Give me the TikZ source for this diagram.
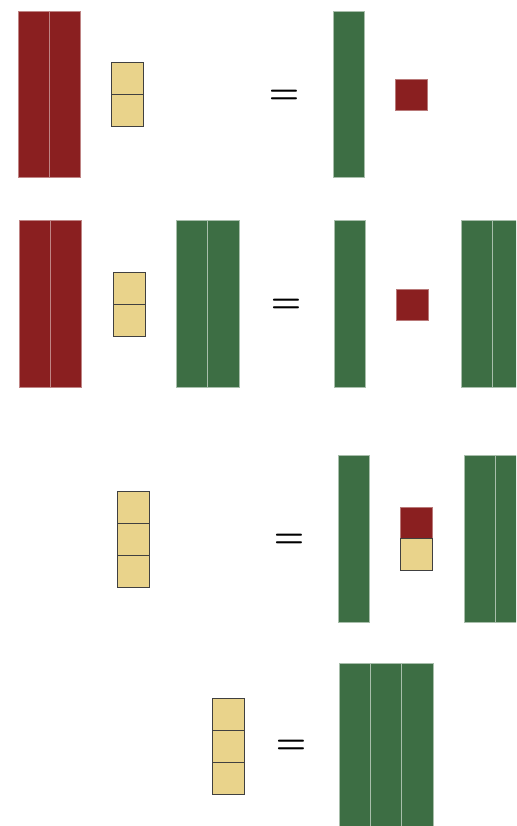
\documentclass[tikz,border=0pt]{standalone}
\usepackage{xcolor}
\usepackage{tikz}
\usetikzlibrary{positioning}

\definecolor{tilered}{RGB}{138,31,32}
\definecolor{tilegreen}{RGB}{61,110,68}
\definecolor{tileyellow}{RGB}{233,211,139}

\begin{document}
\begin{tikzpicture}[x=1pt, y=-1pt,
  tile/.style={rectangle, inner sep=0pt, outer sep=0pt},
  xlong/.style={tile, fill=tilered, draw=tilered!55!white, line width=0.6pt, minimum width=31.3pt, minimum height=166.5pt},
  glong/.style={tile, fill=tilegreen, draw=tilegreen!45!white, line width=0.6pt, minimum width=31.3pt, minimum height=166.5pt},
  redunit/.style={tile, fill=tilered, draw=tilered!60!white, line width=0.5pt, minimum width=32pt, minimum height=31pt},
  unit/.style={tile, fill=tileyellow, draw=black!75, line width=0.8pt, minimum size=32pt},
  eqsign/.style={inner sep=0pt}]
\useasboundingbox (0,0) rectangle (516,826);
\clip (0,0) rectangle (516,826);
% row 1
\node[xlong] (r1a) at (33.6,94.5) {};
\node[xlong, right=0pt of r1a] (r1b) {};
\node[unit] (u1a) at (127,78) {};
\node[unit, below=0pt of u1a] (u1b) {};
\node[eqsign] (eq1) at (284,96.5) {\scalebox{3.4}{\boldmath$=$}};
\node[glong] (g1a) at (348.5,94.5) {};
\node[redunit] (s1) at (411,94.5) {};
% row 2
\node[xlong] (r2a) at (34.6,304) {};
\node[xlong, right=0pt of r2a] (r2b) {};
\node[unit] (u2a) at (129,288) {};
\node[unit, below=0pt of u2a] (u2b) {};
\node[glong] (g2a) at (192,304) {};
\node[glong, right=0pt of g2a] (g2b) {};
\node[eqsign] (eq2) at (286,306) {\scalebox{3.4}{\boldmath$=$}};
\node[glong] (g2c) at (350,304) {};
\node[redunit] (s2) at (412.5,304.5) {};
\node[glong] (g2d) at (476.7,304) {};
\node[glong, right=0pt of g2d] (g2e) {};
% row 3
\node[unit] (u3a) at (133,507) {};
\node[unit, below=0pt of u3a] (u3b) {};
\node[unit, below=0pt of u3b] (u3c) {};
\node[eqsign] (eq3) at (289,540.5) {\scalebox{3.4}{\boldmath$=$}};
\node[glong] (g3a) at (353.5,539) {};
\node[redunit] (s3) at (416,523) {};
\node[unit, below=0pt of s3] (u3d) {};
\node[glong] (g3b) at (479.6,539) {};
\node[glong, right=0pt of g3b] (g3c) {};
% row 4
\node[unit] (u4a) at (228,714) {};
\node[unit, below=0pt of u4a] (u4b) {};
\node[unit, below=0pt of u4b] (u4c) {};
\node[eqsign] (eq4) at (291,747) {\scalebox{3.4}{\boldmath$=$}};
\node[glong] (g4a) at (354.6,746.5) {};
\node[glong, right=0pt of g4a] (g4b) {};
\node[glong, right=0pt of g4b] (g4c) {};
\end{tikzpicture}
\end{document}
